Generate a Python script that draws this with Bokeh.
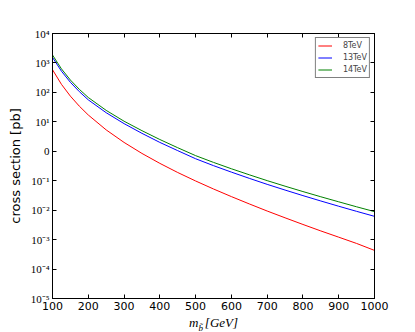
from bokeh.plotting import figure
from bokeh.models import (FixedTicker, LogAxis, LinearAxis, CustomJSTickFormatter,
                          Legend, LegendItem, Label, Range1d)
from bokeh.embed import file_html
from bokeh.resources import INLINE

# ---- data ----
mass = [100, 125, 150, 175, 200, 250, 300, 350, 400, 450, 500, 550, 600, 650, 700,
        750, 800, 850, 900, 950, 1000]
xsec_8tev = [589, 188, 74.5, 34.0, 17.1, 5.33, 2.0, 0.845, 0.389, 0.19, 0.098, 0.0524,
             0.0289, 0.0163, 0.00935, 0.0055, 0.00327, 0.00197, 0.00121, 0.00074, 0.00043]
xsec_13tev = [1550, 525, 220, 106, 55.8, 20.4, 8.7, 4.07, 2.0, 1.05, 0.558, 0.325, 0.196,
              0.1205, 0.0753, 0.0482, 0.0312, 0.0205, 0.0136, 0.00912, 0.00617]
xsec_14tev = [1860, 630, 263, 127, 67.1, 24.5, 10.5, 5.01, 2.51, 1.32, 0.711, 0.419, 0.255,
              0.159, 0.1007, 0.0653, 0.0428, 0.0285, 0.0192, 0.0130, 0.00893]
series_names = ["8TeV", "13TeV", "14TeV"]
series_colors = ["#ff0000", "#0000ff", "#008000"]

x_ticks = [100, 200, 300, 400, 500, 600, 700, 800, 900, 1000]
y_exponents = [-5, -4, -3, -2, -1, 0, 1, 2, 3, 4]
y_tick_labels = ["10⁻⁵", "10⁻⁴", "10⁻³", "10⁻²", "10⁻¹", "0", "10¹", "10²", "10³", "10⁴"]
y_ticks = [10.0 ** e for e in y_exponents]
x_label_main = "m\u00a0\u00a0[GeV]"
x_label_sub = "b̃"

MATH_FONT = "Liberation Serif"
SANS = "DejaVu Sans"

p = figure(width=415, height=332,
           x_range=Range1d(100, 1000), y_range=Range1d(1e-5, 1e4),
           y_axis_type="log", output_backend="svg", toolbar_location=None,
           min_border_left=52, min_border_right=41, min_border_top=33,
           min_border_bottom=34)
p.background_fill_color = "white"
p.border_fill_color = "white"
p.outline_line_color = "black"
p.outline_line_width = 1
p.xgrid.visible = False
p.ygrid.visible = False

renderers = []
for ys, c in zip([xsec_8tev, xsec_13tev, xsec_14tev], series_colors):
    r = p.line(mass, ys, line_color=c, line_width=1)
    renderers.append(r)

# bottom axis
xa = p.xaxis[0]
xa.ticker = FixedTicker(ticks=x_ticks)
xa.major_tick_in = 4
xa.major_tick_out = 0
xa.minor_tick_line_color = None
xa.axis_line_color = "black"
xa.major_label_text_font = SANS
xa.major_label_text_font_size = "11px"
xa.major_label_text_color = "black"
xa.major_label_standoff = 3
xa.axis_label = x_label_main
xa.axis_label_text_font = MATH_FONT
xa.axis_label_text_font_style = "italic"
xa.axis_label_text_font_size = "13px"
xa.axis_label_text_color = "black"
xa.axis_label_standoff = 2

# left axis
ya = p.yaxis[0]
ya.ticker = FixedTicker(ticks=y_ticks)
ya.formatter = CustomJSTickFormatter(args=dict(exps=y_exponents, labels=y_tick_labels), code="""
const e = Math.round(Math.log10(tick));
const i = exps.indexOf(e);
return i >= 0 ? labels[i] : "";
""")
ya.major_tick_in = 4
ya.major_tick_out = 0
ya.minor_tick_line_color = None
ya.axis_line_color = "black"
ya.major_label_text_font = MATH_FONT
ya.major_label_text_font_size = "11px"
ya.major_label_text_color = "black"
ya.major_label_standoff = 3
ya.axis_label = "cross section [pb]"
ya.axis_label_text_font = SANS
ya.axis_label_text_font_style = "normal"
ya.axis_label_text_font_size = "13px"
ya.axis_label_text_color = "black"
ya.axis_label_standoff = 5

empty = CustomJSTickFormatter(code="return '';")
top = LinearAxis(ticker=FixedTicker(ticks=x_ticks), formatter=empty,
                 major_tick_in=4, major_tick_out=0, minor_tick_line_color=None,
                 axis_line_color="black", major_label_standoff=0)
p.add_layout(top, "above")
right = LogAxis(ticker=FixedTicker(ticks=y_ticks), formatter=empty,
                major_tick_in=4, major_tick_out=0, minor_tick_line_color=None,
                axis_line_color="black", major_label_standoff=0)
p.add_layout(right, "right")

# legend
legend = Legend(items=[LegendItem(label=n, renderers=[r]) for n, r in zip(series_names, renderers)],
                location="top_right", margin=4, padding=2, spacing=1,
                glyph_width=14, glyph_height=11, label_height=11, label_standoff=11,
                label_text_font=SANS, label_text_font_size="8px",
                border_line_color="black", border_line_width=1,
                background_fill_color="white", background_fill_alpha=1)
p.add_layout(legend, "center")

# subscript of the x-axis label: hosted in the (roomy) right side panel so that it is
# not clipped by the frame, positioned in data units under the axis label
p.add_layout(Label(x=550, y=1e-5, x_units="data", y_units="data", x_offset=-15, y_offset=-29,
                   text=x_label_sub, text_font=MATH_FONT, text_font_style="italic",
                   text_font_size="9px", text_baseline="alphabetic", text_align="left",
                   text_color="black"), "right")

open("out.html", "w").write(file_html(p, INLINE))
